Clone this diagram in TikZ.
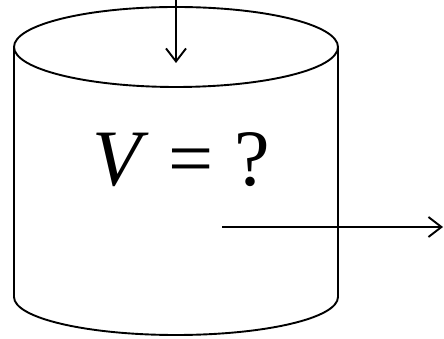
\documentclass[tikz,border=0pt]{standalone}
\usepackage{fontspec}
\setmainfont{Liberation Serif}
\usepackage{tikz}
\usetikzlibrary{calc, positioning, arrows.meta}

\begin{document}
\begin{tikzpicture}[
  x=1pt, y=1pt,
  tank/.style={line width=1.9pt, fill=white},
  arr/.style={-{Straight Barb[length=13pt, width=20pt, line width=1.9pt]}, line width=1.9pt},
  lbl/.style={inner sep=0pt, font=\fontsize{80}{84}\selectfont},
]
  \useasboundingbox (0,0) rectangle (444,339);

  % Cylinder
  \draw[tank] (14,292) -- (14,42) arc[start angle=180, end angle=360, x radius=162, y radius=38]
    -- (338,292);
  \draw[tank] (176,292) ellipse[x radius=162, y radius=40];

  % Label
  \node[lbl] (vol) at (181,179) {\textit{V} = ?};

  % Inflow and outflow
  \coordinate (inA) at (176,339);
  \coordinate (inB) at (176,276);
  \coordinate (outA) at (222,112);
  \coordinate (outB) at (443,112);
  \draw[arr] (inA) -- (inB);
  \draw[arr] (outA) -- (outB);
\end{tikzpicture}
\end{document}
